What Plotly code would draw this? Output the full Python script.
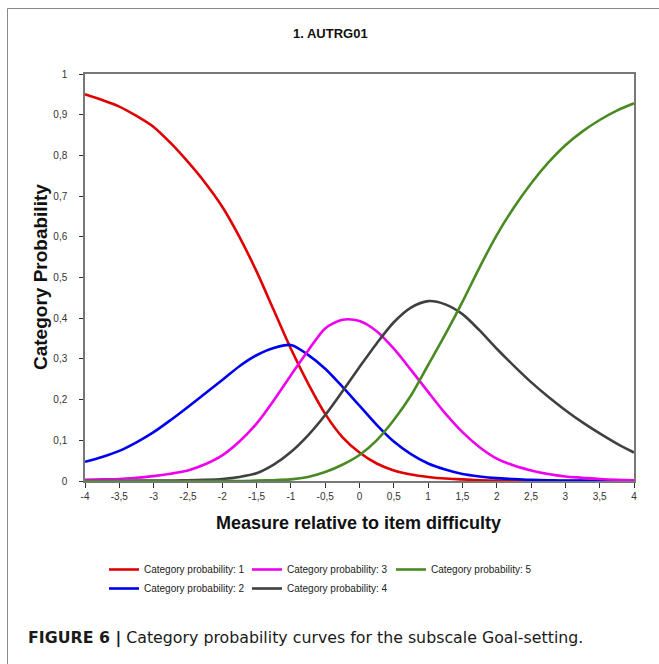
import plotly.graph_objects as go

# Measure relative to item difficulty
x_vals = [-4, -3.75, -3.5, -3.25, -3, -2.75, -2.5, -2.25, -2, -1.75, -1.5, -1.25, -1, -0.75, -0.5, -0.25,
          0, 0.25, 0.5, 0.75, 1, 1.25, 1.5, 1.75, 2, 2.25, 2.5, 2.75, 3, 3.25, 3.5, 3.75, 4]

# Category probability curves
cat1 = [0.950, 0.936, 0.920, 0.897, 0.870, 0.830, 0.784, 0.733, 0.674, 0.600, 0.515, 0.420, 0.325, 0.240, 0.165, 0.108,
        0.070, 0.043, 0.026, 0.016, 0.010, 0.006, 0.004, 0.002, 0.001, 0.001, 0.000, 0.000, 0.000, 0.000, 0.000, 0.000, 0.000]
cat2 = [0.047, 0.059, 0.074, 0.095, 0.120, 0.150, 0.182, 0.215, 0.248, 0.282, 0.309, 0.327, 0.334, 0.310, 0.276, 0.232,
        0.185, 0.138, 0.097, 0.066, 0.043, 0.028, 0.017, 0.011, 0.007, 0.005, 0.003, 0.002, 0.001, 0.001, 0.000, 0.000, 0.000]
cat3 = [0.003, 0.004, 0.005, 0.008, 0.012, 0.018, 0.026, 0.041, 0.063, 0.097, 0.141, 0.198, 0.260, 0.320, 0.375, 0.396,
        0.393, 0.368, 0.325, 0.273, 0.219, 0.166, 0.120, 0.083, 0.055, 0.038, 0.026, 0.017, 0.011, 0.008, 0.005, 0.003, 0.002]
cat4 = [0.000, 0.000, 0.000, 0.001, 0.001, 0.001, 0.002, 0.003, 0.005, 0.010, 0.019, 0.040, 0.071, 0.112, 0.162, 0.220,
        0.280, 0.338, 0.390, 0.426, 0.442, 0.434, 0.410, 0.370, 0.325, 0.283, 0.243, 0.207, 0.174, 0.144, 0.117, 0.092, 0.070]
cat5 = [0.000, 0.000, 0.000, 0.000, 0.000, 0.000, 0.000, 0.000, 0.000, 0.000, 0.001, 0.002, 0.004, 0.010, 0.022, 0.040,
        0.064, 0.100, 0.150, 0.210, 0.285, 0.360, 0.440, 0.525, 0.604, 0.672, 0.731, 0.782, 0.825, 0.859, 0.887, 0.910, 0.928]

series_names = ["Category probability: 1", "Category probability: 2", "Category probability: 3",
                "Category probability: 4", "Category probability: 5"]
series_vals = [cat1, cat2, cat3, cat4, cat5]
series_colors = ["#e00000", "#0000f0", "#ee00ee", "#404040", "#4a8a22"]
series_legend = ["legend", "legend", "legend2", "legend2", "legend3"]

x_ticks = [-4, -3.5, -3, -2.5, -2, -1.5, -1, -0.5, 0, 0.5, 1, 1.5, 2, 2.5, 3, 3.5, 4]
x_ticktext = ["-4", "-3,5", "-3", "-2,5", "-2", "-1,5", "-1", "-0,5", "0", "0,5", "1", "1,5", "2", "2,5", "3", "3,5", "4"]
y_ticks = [0, 0.1, 0.2, 0.3, 0.4, 0.5, 0.6, 0.7, 0.8, 0.9, 1]
y_ticktext = ["0", "0,1", "0,2", "0,3", "0,4", "0,5", "0,6", "0,7", "0,8", "0,9", "1"]

W, H = 659, 664
L, R, T, B = 85, 634, 74, 481


def xp(px):
    return (px - L) / (R - L)


def yp(py):
    return (B - py) / (B - T)


fig = go.Figure()
for name, vals, col, lg in zip(series_names, series_vals, series_colors, series_legend):
    fig.add_trace(go.Scatter(
        x=x_vals, y=vals, mode="lines", name=name, legend=lg,
        line=dict(color=col, width=2.6, shape="spline", smoothing=0.8),
    ))

FONT = "Liberation Sans, Arial, sans-serif"
NARROW = "Liberation Sans Narrow, Arial Narrow, Liberation Sans, sans-serif"
legend_common = dict(
    orientation="v", xanchor="left", yanchor="top",
    font=dict(family=FONT, size=10, color="#222"),
    bgcolor="rgba(0,0,0,0)", tracegroupgap=0, itemwidth=30,
)

fig.update_layout(
    width=W, height=H,
    margin=dict(l=L, r=W - R, t=T, b=H - B),
    paper_bgcolor="white", plot_bgcolor="white",
    showlegend=True,
    legend=dict(x=xp(104), y=yp(555), **legend_common),
    legend2=dict(x=xp(247), y=yp(555), **legend_common),
    legend3=dict(x=xp(391), y=yp(555), **legend_common),
    xaxis=dict(
        range=[-4, 4], tickvals=x_ticks, ticktext=x_ticktext,
        showgrid=False, zeroline=False, showline=True, linecolor="#777", linewidth=1.5,
        mirror=True, ticks="outside", ticklen=5, tickcolor="#333", tickwidth=1,
        tickfont=dict(family=NARROW, size=10, color="#333"),
    ),
    yaxis=dict(
        range=[0, 1], tickvals=y_ticks, ticktext=y_ticktext,
        showgrid=False, zeroline=False, showline=True, linecolor="#777", linewidth=1.5,
        mirror=True, ticks="outside", ticklen=4, tickcolor="#333", tickwidth=1,
        ticklabelstandoff=10,
        tickfont=dict(family=NARROW, size=10, color="#333"),
    ),
    annotations=[
        dict(text="<b>1. AUTRG01</b>", x=xp(330), y=yp(33), xref="paper", yref="paper",
             showarrow=False, xanchor="center", yanchor="middle",
             font=dict(family=FONT, size=13, color="#111")),
        dict(text="<b>Category Probability</b>", x=xp(40), y=yp(277), xref="paper", yref="paper",
             showarrow=False, xanchor="center", yanchor="middle", textangle=-90,
             font=dict(family=FONT, size=19, color="#111")),
        dict(text="<b>Measure relative to item difficulty</b>", x=xp(358), y=yp(523),
             xref="paper", yref="paper", showarrow=False, xanchor="center", yanchor="middle",
             font=dict(family=FONT, size=18, color="#111")),
        dict(text="<b>FIGURE 6 |</b> Category probability curves for the subscale Goal-setting.",
             x=xp(26), y=yp(638), xref="paper", yref="paper", showarrow=False,
             xanchor="left", yanchor="middle",
             font=dict(family="DejaVu Sans, sans-serif", size=15.8, color="#1a1a1a")),
    ],
    shapes=[
        dict(type="path", xref="paper", yref="paper",
             path=f"M {xp(7.5)},{yp(680)} L {xp(7.5)},{yp(8.5)} L {xp(670)},{yp(8.5)}",
             line=dict(color="#8a8a8a", width=1)),
    ],
)

fig.write_html("out.html",
               config={"displayModeBar": False},
               post_script="document.body.style.margin='0';document.body.style.padding='0';")
